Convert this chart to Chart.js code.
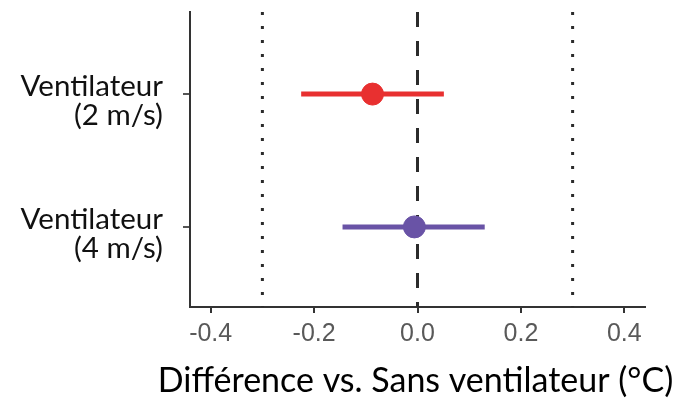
<!DOCTYPE html>
<html>
<head>
<meta charset="utf-8">
<script src="https://cdn.jsdelivr.net/npm/chart.js@4.4.1/dist/chart.umd.min.js"></script>
<style>
  html, body { margin: 0; padding: 0; background: #fff; }
  #wrap { width: 678px; height: 406px; }
</style>
</head>
<body>
<div id="wrap"><canvas id="forest"></canvas></div>
<script>
// data
const categories = [['Ventilateur', '(2 m/s)'], ['Ventilateur', '(4 m/s)']];
const rows = [1, 2];
const estimates = [-0.087, -0.006];
const lowerCI = [-0.225, -0.145];
const upperCI = [0.051, 0.130];
const xTicks = [-0.4, -0.2, 0.0, 0.2, 0.4];
const refLines = [-0.3, 0.0, 0.3];
const xTitle = 'Différence vs. Sans ventilateur (°C)';

const seriesColors = ['#e83030', '#6953a6'];
const yMin = 0.382, yMax = 2.603;

const datasets = [];

// reference lines (dotted at +-0.3, dashed at 0)
refLines.forEach(v => {
  datasets.push({
    type: 'line',
    data: [{ x: v, y: yMin }, { x: v, y: yMax }],
    borderColor: '#2b2b2b',
    borderWidth: 3,
    borderDash: v === 0 ? [15, 14] : [3, 11],
    pointRadius: 0,
    order: 3
  });
});

// confidence intervals
rows.forEach((r, i) => {
  datasets.push({
    type: 'line',
    data: [{ x: lowerCI[i], y: r }, { x: upperCI[i], y: r }],
    borderColor: seriesColors[i],
    borderWidth: 5,
    pointRadius: 0,
    order: 2
  });
});

// point estimates
datasets.push({
  type: 'scatter',
  data: rows.map((r, i) => ({ x: estimates[i], y: r })),
  backgroundColor: seriesColors,
  borderColor: seriesColors,
  pointRadius: 11,
  pointHoverRadius: 11,
  order: 1
});

// chart.js pads axes for half a label; we want the plot box fixed
const noPad = (scale) => {
  scale.paddingTop = 0; scale.paddingBottom = 0;
  scale.paddingLeft = 0; scale.paddingRight = 0;
};

// the axis title is wider than the plot, and chart.js squeezes it to the
// scale width, so draw it ourselves under the x axis
const xTitlePlugin = {
  id: 'xTitle',
  afterDraw(chart) {
    const { ctx, chartArea, scales } = chart;
    ctx.save();
    ctx.font = '34px Lato';
    ctx.fillStyle = '#000';
    ctx.textAlign = 'center';
    ctx.textBaseline = 'middle';
    ctx.fillText(xTitle, (chartArea.left + chartArea.right) / 2 - 2, scales.x.bottom - 25);
    ctx.restore();
  }
};

new Chart(document.getElementById('forest'), {
  type: 'scatter',
  data: { datasets },
  plugins: [xTitlePlugin],
  options: {
    responsive: true,
    maintainAspectRatio: false,
    animation: false,
    events: [],
    layout: { padding: { top: 5, right: 33, left: 0, bottom: 0 } },
    plugins: { legend: { display: false }, tooltip: { enabled: false } },
    scales: {
      x: {
        type: 'linear',
        min: -0.44,
        max: 0.44,
        afterBuildTicks: (scale) => { scale.ticks = xTicks.map(v => ({ value: v })); },
        afterFit: (scale) => { scale.height = 99; noPad(scale); },
        grid: { drawOnChartArea: false, drawTicks: true, tickLength: 6, color: '#333', lineWidth: 2 },
        border: { display: true, color: '#333', width: 2 },
        ticks: {
          padding: 6,
          color: '#595959',
          font: { family: 'Liberation Sans', size: 25 },
          callback: (v) => Number(v).toFixed(1)
        },
        title: { display: false }
      },
      y: {
        type: 'linear',
        reverse: true,
        min: yMin,
        max: yMax,
        afterBuildTicks: (scale) => { scale.ticks = rows.map(v => ({ value: v })); },
        afterFit: (scale) => { scale.width = 190; noPad(scale); },
        grid: { drawOnChartArea: false, drawTicks: true, tickLength: 7, color: '#555', lineWidth: 2 },
        border: { display: true, color: '#333', width: 2 },
        ticks: {
          padding: 20,
          labelOffset: 7,
          color: '#111',
          font: { family: 'Lato', size: 29.5, lineHeight: 0.98 },
          callback: (v) => categories[rows.indexOf(v)] || ''
        }
      }
    }
  }
});
</script>
</body>
</html>
